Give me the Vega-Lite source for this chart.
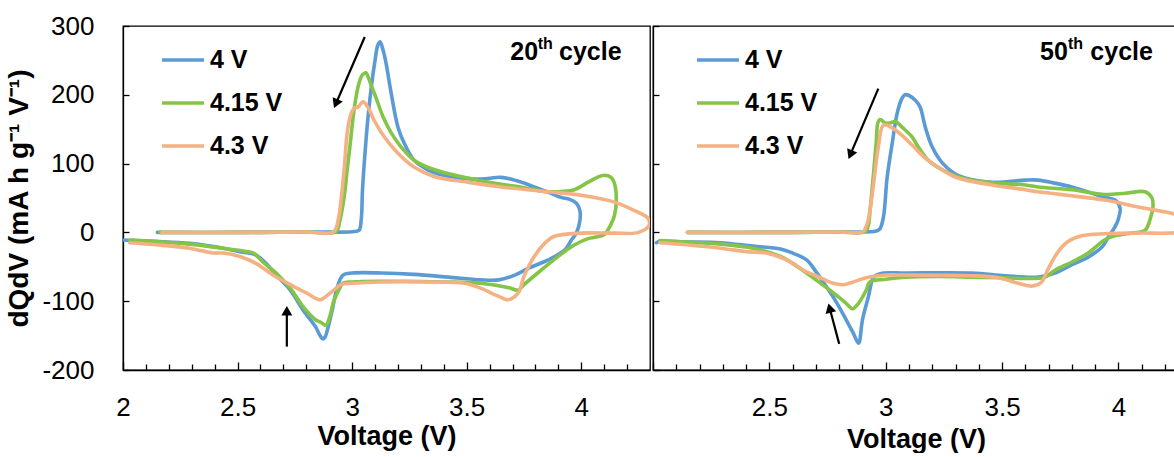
{
  "$schema": "https://vega.github.io/schema/vega-lite/v6.json",
  "padding": {"left": 5, "top": 12, "right": 0, "bottom": 0},
  "datasets": {
    "curves": [
      {"cycle":"20th","cutoff":"4 V","i":0,"V":2.15,"dQdV":0},
      {"cycle":"20th","cutoff":"4 V","i":1,"V":2.5,"dQdV":0},
      {"cycle":"20th","cutoff":"4 V","i":2,"V":2.8,"dQdV":0.5},
      {"cycle":"20th","cutoff":"4 V","i":3,"V":3.0,"dQdV":1},
      {"cycle":"20th","cutoff":"4 V","i":4,"V":3.03,"dQdV":3},
      {"cycle":"20th","cutoff":"4 V","i":5,"V":3.04,"dQdV":20},
      {"cycle":"20th","cutoff":"4 V","i":6,"V":3.045,"dQdV":60},
      {"cycle":"20th","cutoff":"4 V","i":7,"V":3.055,"dQdV":110},
      {"cycle":"20th","cutoff":"4 V","i":8,"V":3.07,"dQdV":170},
      {"cycle":"20th","cutoff":"4 V","i":9,"V":3.085,"dQdV":215},
      {"cycle":"20th","cutoff":"4 V","i":10,"V":3.1,"dQdV":250},
      {"cycle":"20th","cutoff":"4 V","i":11,"V":3.112,"dQdV":272},
      {"cycle":"20th","cutoff":"4 V","i":12,"V":3.122,"dQdV":277},
      {"cycle":"20th","cutoff":"4 V","i":13,"V":3.135,"dQdV":265},
      {"cycle":"20th","cutoff":"4 V","i":14,"V":3.148,"dQdV":246},
      {"cycle":"20th","cutoff":"4 V","i":15,"V":3.17,"dQdV":203},
      {"cycle":"20th","cutoff":"4 V","i":16,"V":3.2,"dQdV":153},
      {"cycle":"20th","cutoff":"4 V","i":17,"V":3.227,"dQdV":130},
      {"cycle":"20th","cutoff":"4 V","i":18,"V":3.27,"dQdV":105},
      {"cycle":"20th","cutoff":"4 V","i":19,"V":3.33,"dQdV":91},
      {"cycle":"20th","cutoff":"4 V","i":20,"V":3.4,"dQdV":83},
      {"cycle":"20th","cutoff":"4 V","i":21,"V":3.505,"dQdV":78},
      {"cycle":"20th","cutoff":"4 V","i":22,"V":3.58,"dQdV":78},
      {"cycle":"20th","cutoff":"4 V","i":23,"V":3.65,"dQdV":80},
      {"cycle":"20th","cutoff":"4 V","i":24,"V":3.72,"dQdV":75},
      {"cycle":"20th","cutoff":"4 V","i":25,"V":3.795,"dQdV":66},
      {"cycle":"20th","cutoff":"4 V","i":26,"V":3.86,"dQdV":58},
      {"cycle":"20th","cutoff":"4 V","i":27,"V":3.91,"dQdV":51},
      {"cycle":"20th","cutoff":"4 V","i":28,"V":3.95,"dQdV":48},
      {"cycle":"20th","cutoff":"4 V","i":29,"V":3.98,"dQdV":42},
      {"cycle":"20th","cutoff":"4 V","i":30,"V":3.995,"dQdV":30},
      {"cycle":"20th","cutoff":"4 V","i":31,"V":3.99,"dQdV":10},
      {"cycle":"20th","cutoff":"4 V","i":32,"V":3.975,"dQdV":-3},
      {"cycle":"20th","cutoff":"4 V","i":33,"V":3.955,"dQdV":-12},
      {"cycle":"20th","cutoff":"4 V","i":34,"V":3.93,"dQdV":-25},
      {"cycle":"20th","cutoff":"4 V","i":35,"V":3.856,"dQdV":-40},
      {"cycle":"20th","cutoff":"4 V","i":36,"V":3.77,"dQdV":-52},
      {"cycle":"20th","cutoff":"4 V","i":37,"V":3.71,"dQdV":-62},
      {"cycle":"20th","cutoff":"4 V","i":38,"V":3.64,"dQdV":-69},
      {"cycle":"20th","cutoff":"4 V","i":39,"V":3.56,"dQdV":-69},
      {"cycle":"20th","cutoff":"4 V","i":40,"V":3.42,"dQdV":-65},
      {"cycle":"20th","cutoff":"4 V","i":41,"V":3.27,"dQdV":-61},
      {"cycle":"20th","cutoff":"4 V","i":42,"V":3.13,"dQdV":-59},
      {"cycle":"20th","cutoff":"4 V","i":43,"V":3.0,"dQdV":-59},
      {"cycle":"20th","cutoff":"4 V","i":44,"V":2.96,"dQdV":-62},
      {"cycle":"20th","cutoff":"4 V","i":45,"V":2.935,"dQdV":-80},
      {"cycle":"20th","cutoff":"4 V","i":46,"V":2.915,"dQdV":-110},
      {"cycle":"20th","cutoff":"4 V","i":47,"V":2.895,"dQdV":-138},
      {"cycle":"20th","cutoff":"4 V","i":48,"V":2.882,"dQdV":-152},
      {"cycle":"20th","cutoff":"4 V","i":49,"V":2.873,"dQdV":-155},
      {"cycle":"20th","cutoff":"4 V","i":50,"V":2.86,"dQdV":-150},
      {"cycle":"20th","cutoff":"4 V","i":51,"V":2.84,"dQdV":-137},
      {"cycle":"20th","cutoff":"4 V","i":52,"V":2.786,"dQdV":-113},
      {"cycle":"20th","cutoff":"4 V","i":53,"V":2.73,"dQdV":-84},
      {"cycle":"20th","cutoff":"4 V","i":54,"V":2.668,"dQdV":-62},
      {"cycle":"20th","cutoff":"4 V","i":55,"V":2.624,"dQdV":-45},
      {"cycle":"20th","cutoff":"4 V","i":56,"V":2.58,"dQdV":-33},
      {"cycle":"20th","cutoff":"4 V","i":57,"V":2.51,"dQdV":-28},
      {"cycle":"20th","cutoff":"4 V","i":58,"V":2.437,"dQdV":-23},
      {"cycle":"20th","cutoff":"4 V","i":59,"V":2.29,"dQdV":-16},
      {"cycle":"20th","cutoff":"4 V","i":60,"V":2.145,"dQdV":-13},
      {"cycle":"20th","cutoff":"4 V","i":61,"V":2.0,"dQdV":-11},

      {"cycle":"20th","cutoff":"4.15 V","i":0,"V":2.16,"dQdV":0},
      {"cycle":"20th","cutoff":"4.15 V","i":1,"V":2.5,"dQdV":0},
      {"cycle":"20th","cutoff":"4.15 V","i":2,"V":2.8,"dQdV":0.5},
      {"cycle":"20th","cutoff":"4.15 V","i":3,"V":2.93,"dQdV":1},
      {"cycle":"20th","cutoff":"4.15 V","i":4,"V":2.945,"dQdV":15},
      {"cycle":"20th","cutoff":"4.15 V","i":5,"V":2.965,"dQdV":51},
      {"cycle":"20th","cutoff":"4.15 V","i":6,"V":2.978,"dQdV":90},
      {"cycle":"20th","cutoff":"4.15 V","i":7,"V":2.99,"dQdV":124},
      {"cycle":"20th","cutoff":"4.15 V","i":8,"V":3.01,"dQdV":182},
      {"cycle":"20th","cutoff":"4.15 V","i":9,"V":3.03,"dQdV":217},
      {"cycle":"20th","cutoff":"4.15 V","i":10,"V":3.045,"dQdV":229},
      {"cycle":"20th","cutoff":"4.15 V","i":11,"V":3.06,"dQdV":232},
      {"cycle":"20th","cutoff":"4.15 V","i":12,"V":3.072,"dQdV":224},
      {"cycle":"20th","cutoff":"4.15 V","i":13,"V":3.083,"dQdV":214},
      {"cycle":"20th","cutoff":"4.15 V","i":14,"V":3.105,"dQdV":195},
      {"cycle":"20th","cutoff":"4.15 V","i":15,"V":3.135,"dQdV":168},
      {"cycle":"20th","cutoff":"4.15 V","i":16,"V":3.17,"dQdV":145},
      {"cycle":"20th","cutoff":"4.15 V","i":17,"V":3.214,"dQdV":124},
      {"cycle":"20th","cutoff":"4.15 V","i":18,"V":3.27,"dQdV":105},
      {"cycle":"20th","cutoff":"4.15 V","i":19,"V":3.36,"dQdV":91},
      {"cycle":"20th","cutoff":"4.15 V","i":20,"V":3.505,"dQdV":79},
      {"cycle":"20th","cutoff":"4.15 V","i":21,"V":3.56,"dQdV":75},
      {"cycle":"20th","cutoff":"4.15 V","i":22,"V":3.65,"dQdV":70},
      {"cycle":"20th","cutoff":"4.15 V","i":23,"V":3.75,"dQdV":65},
      {"cycle":"20th","cutoff":"4.15 V","i":24,"V":3.856,"dQdV":59},
      {"cycle":"20th","cutoff":"4.15 V","i":25,"V":3.93,"dQdV":60},
      {"cycle":"20th","cutoff":"4.15 V","i":26,"V":3.97,"dQdV":62},
      {"cycle":"20th","cutoff":"4.15 V","i":27,"V":4.03,"dQdV":73},
      {"cycle":"20th","cutoff":"4.15 V","i":28,"V":4.07,"dQdV":80},
      {"cycle":"20th","cutoff":"4.15 V","i":29,"V":4.1,"dQdV":83},
      {"cycle":"20th","cutoff":"4.15 V","i":30,"V":4.13,"dQdV":80},
      {"cycle":"20th","cutoff":"4.15 V","i":31,"V":4.145,"dQdV":71},
      {"cycle":"20th","cutoff":"4.15 V","i":32,"V":4.153,"dQdV":47},
      {"cycle":"20th","cutoff":"4.15 V","i":33,"V":4.145,"dQdV":25},
      {"cycle":"20th","cutoff":"4.15 V","i":34,"V":4.13,"dQdV":12},
      {"cycle":"20th","cutoff":"4.15 V","i":35,"V":4.1,"dQdV":-3},
      {"cycle":"20th","cutoff":"4.15 V","i":36,"V":4.06,"dQdV":-7},
      {"cycle":"20th","cutoff":"4.15 V","i":37,"V":4.03,"dQdV":-9},
      {"cycle":"20th","cutoff":"4.15 V","i":38,"V":3.956,"dQdV":-21},
      {"cycle":"20th","cutoff":"4.15 V","i":39,"V":3.88,"dQdV":-40},
      {"cycle":"20th","cutoff":"4.15 V","i":40,"V":3.81,"dQdV":-59},
      {"cycle":"20th","cutoff":"4.15 V","i":41,"V":3.75,"dQdV":-76},
      {"cycle":"20th","cutoff":"4.15 V","i":42,"V":3.725,"dQdV":-84},
      {"cycle":"20th","cutoff":"4.15 V","i":43,"V":3.68,"dQdV":-80},
      {"cycle":"20th","cutoff":"4.15 V","i":44,"V":3.56,"dQdV":-74},
      {"cycle":"20th","cutoff":"4.15 V","i":45,"V":3.42,"dQdV":-72},
      {"cycle":"20th","cutoff":"4.15 V","i":46,"V":3.127,"dQdV":-71},
      {"cycle":"20th","cutoff":"4.15 V","i":47,"V":3.0,"dQdV":-72},
      {"cycle":"20th","cutoff":"4.15 V","i":48,"V":2.96,"dQdV":-74},
      {"cycle":"20th","cutoff":"4.15 V","i":49,"V":2.94,"dQdV":-85},
      {"cycle":"20th","cutoff":"4.15 V","i":50,"V":2.92,"dQdV":-100},
      {"cycle":"20th","cutoff":"4.15 V","i":51,"V":2.9,"dQdV":-125},
      {"cycle":"20th","cutoff":"4.15 V","i":52,"V":2.886,"dQdV":-135},
      {"cycle":"20th","cutoff":"4.15 V","i":53,"V":2.865,"dQdV":-131},
      {"cycle":"20th","cutoff":"4.15 V","i":54,"V":2.84,"dQdV":-127},
      {"cycle":"20th","cutoff":"4.15 V","i":55,"V":2.786,"dQdV":-108},
      {"cycle":"20th","cutoff":"4.15 V","i":56,"V":2.73,"dQdV":-81},
      {"cycle":"20th","cutoff":"4.15 V","i":57,"V":2.668,"dQdV":-59},
      {"cycle":"20th","cutoff":"4.15 V","i":58,"V":2.61,"dQdV":-43},
      {"cycle":"20th","cutoff":"4.15 V","i":59,"V":2.57,"dQdV":-30},
      {"cycle":"20th","cutoff":"4.15 V","i":60,"V":2.524,"dQdV":-27},
      {"cycle":"20th","cutoff":"4.15 V","i":61,"V":2.437,"dQdV":-23},
      {"cycle":"20th","cutoff":"4.15 V","i":62,"V":2.29,"dQdV":-17},
      {"cycle":"20th","cutoff":"4.15 V","i":63,"V":2.03,"dQdV":-11},

      {"cycle":"20th","cutoff":"4.3 V","i":0,"V":2.17,"dQdV":0},
      {"cycle":"20th","cutoff":"4.3 V","i":1,"V":2.5,"dQdV":0},
      {"cycle":"20th","cutoff":"4.3 V","i":2,"V":2.8,"dQdV":0.5},
      {"cycle":"20th","cutoff":"4.3 V","i":3,"V":2.92,"dQdV":1},
      {"cycle":"20th","cutoff":"4.3 V","i":4,"V":2.94,"dQdV":20},
      {"cycle":"20th","cutoff":"4.3 V","i":5,"V":2.95,"dQdV":42},
      {"cycle":"20th","cutoff":"4.3 V","i":6,"V":2.965,"dQdV":91},
      {"cycle":"20th","cutoff":"4.3 V","i":7,"V":2.98,"dQdV":149},
      {"cycle":"20th","cutoff":"4.3 V","i":8,"V":2.996,"dQdV":173},
      {"cycle":"20th","cutoff":"4.3 V","i":9,"V":3.01,"dQdV":181},
      {"cycle":"20th","cutoff":"4.3 V","i":10,"V":3.025,"dQdV":182},
      {"cycle":"20th","cutoff":"4.3 V","i":11,"V":3.048,"dQdV":190},
      {"cycle":"20th","cutoff":"4.3 V","i":12,"V":3.07,"dQdV":181},
      {"cycle":"20th","cutoff":"4.3 V","i":13,"V":3.096,"dQdV":163},
      {"cycle":"20th","cutoff":"4.3 V","i":14,"V":3.14,"dQdV":139},
      {"cycle":"20th","cutoff":"4.3 V","i":15,"V":3.2,"dQdV":115},
      {"cycle":"20th","cutoff":"4.3 V","i":16,"V":3.27,"dQdV":95},
      {"cycle":"20th","cutoff":"4.3 V","i":17,"V":3.36,"dQdV":81},
      {"cycle":"20th","cutoff":"4.3 V","i":18,"V":3.505,"dQdV":73},
      {"cycle":"20th","cutoff":"4.3 V","i":19,"V":3.65,"dQdV":66},
      {"cycle":"20th","cutoff":"4.3 V","i":20,"V":3.856,"dQdV":59},
      {"cycle":"20th","cutoff":"4.3 V","i":21,"V":4.0,"dQdV":54},
      {"cycle":"20th","cutoff":"4.3 V","i":22,"V":4.145,"dQdV":44},
      {"cycle":"20th","cutoff":"4.3 V","i":23,"V":4.23,"dQdV":32},
      {"cycle":"20th","cutoff":"4.3 V","i":24,"V":4.29,"dQdV":21},
      {"cycle":"20th","cutoff":"4.3 V","i":25,"V":4.297,"dQdV":11},
      {"cycle":"20th","cutoff":"4.3 V","i":26,"V":4.25,"dQdV":0},
      {"cycle":"20th","cutoff":"4.3 V","i":27,"V":4.145,"dQdV":-1},
      {"cycle":"20th","cutoff":"4.3 V","i":28,"V":4.0,"dQdV":-1},
      {"cycle":"20th","cutoff":"4.3 V","i":29,"V":3.88,"dQdV":-6},
      {"cycle":"20th","cutoff":"4.3 V","i":30,"V":3.84,"dQdV":-16},
      {"cycle":"20th","cutoff":"4.3 V","i":31,"V":3.795,"dQdV":-35},
      {"cycle":"20th","cutoff":"4.3 V","i":32,"V":3.75,"dQdV":-64},
      {"cycle":"20th","cutoff":"4.3 V","i":33,"V":3.725,"dQdV":-88},
      {"cycle":"20th","cutoff":"4.3 V","i":34,"V":3.68,"dQdV":-98},
      {"cycle":"20th","cutoff":"4.3 V","i":35,"V":3.64,"dQdV":-93},
      {"cycle":"20th","cutoff":"4.3 V","i":36,"V":3.56,"dQdV":-81},
      {"cycle":"20th","cutoff":"4.3 V","i":37,"V":3.49,"dQdV":-74},
      {"cycle":"20th","cutoff":"4.3 V","i":38,"V":3.345,"dQdV":-72},
      {"cycle":"20th","cutoff":"4.3 V","i":39,"V":3.127,"dQdV":-72},
      {"cycle":"20th","cutoff":"4.3 V","i":40,"V":3.0,"dQdV":-74},
      {"cycle":"20th","cutoff":"4.3 V","i":41,"V":2.95,"dQdV":-76},
      {"cycle":"20th","cutoff":"4.3 V","i":42,"V":2.92,"dQdV":-84},
      {"cycle":"20th","cutoff":"4.3 V","i":43,"V":2.886,"dQdV":-93},
      {"cycle":"20th","cutoff":"4.3 V","i":44,"V":2.86,"dQdV":-98},
      {"cycle":"20th","cutoff":"4.3 V","i":45,"V":2.8,"dQdV":-88},
      {"cycle":"20th","cutoff":"4.3 V","i":46,"V":2.73,"dQdV":-76},
      {"cycle":"20th","cutoff":"4.3 V","i":47,"V":2.655,"dQdV":-62},
      {"cycle":"20th","cutoff":"4.3 V","i":48,"V":2.58,"dQdV":-45},
      {"cycle":"20th","cutoff":"4.3 V","i":49,"V":2.51,"dQdV":-35},
      {"cycle":"20th","cutoff":"4.3 V","i":50,"V":2.437,"dQdV":-30},
      {"cycle":"20th","cutoff":"4.3 V","i":51,"V":2.393,"dQdV":-30},
      {"cycle":"20th","cutoff":"4.3 V","i":52,"V":2.29,"dQdV":-23},
      {"cycle":"20th","cutoff":"4.3 V","i":53,"V":2.145,"dQdV":-18},
      {"cycle":"20th","cutoff":"4.3 V","i":54,"V":2.03,"dQdV":-15},

      {"cycle":"50th","cutoff":"4 V","i":0,"V":2.148,"dQdV":0},
      {"cycle":"50th","cutoff":"4 V","i":1,"V":2.5,"dQdV":0},
      {"cycle":"50th","cutoff":"4 V","i":2,"V":2.8,"dQdV":0.5},
      {"cycle":"50th","cutoff":"4 V","i":3,"V":2.96,"dQdV":2},
      {"cycle":"50th","cutoff":"4 V","i":4,"V":2.975,"dQdV":5},
      {"cycle":"50th","cutoff":"4 V","i":5,"V":2.99,"dQdV":22},
      {"cycle":"50th","cutoff":"4 V","i":6,"V":3.006,"dQdV":80},
      {"cycle":"50th","cutoff":"4 V","i":7,"V":3.028,"dQdV":130},
      {"cycle":"50th","cutoff":"4 V","i":8,"V":3.049,"dQdV":173},
      {"cycle":"50th","cutoff":"4 V","i":9,"V":3.07,"dQdV":195},
      {"cycle":"50th","cutoff":"4 V","i":10,"V":3.083,"dQdV":200},
      {"cycle":"50th","cutoff":"4 V","i":11,"V":3.1,"dQdV":199},
      {"cycle":"50th","cutoff":"4 V","i":12,"V":3.127,"dQdV":192},
      {"cycle":"50th","cutoff":"4 V","i":13,"V":3.148,"dQdV":182},
      {"cycle":"50th","cutoff":"4 V","i":14,"V":3.17,"dQdV":153},
      {"cycle":"50th","cutoff":"4 V","i":15,"V":3.2,"dQdV":124},
      {"cycle":"50th","cutoff":"4 V","i":16,"V":3.243,"dQdV":101},
      {"cycle":"50th","cutoff":"4 V","i":17,"V":3.31,"dQdV":83},
      {"cycle":"50th","cutoff":"4 V","i":18,"V":3.457,"dQdV":73},
      {"cycle":"50th","cutoff":"4 V","i":19,"V":3.6,"dQdV":76},
      {"cycle":"50th","cutoff":"4 V","i":20,"V":3.655,"dQdV":76},
      {"cycle":"50th","cutoff":"4 V","i":21,"V":3.72,"dQdV":72},
      {"cycle":"50th","cutoff":"4 V","i":22,"V":3.8,"dQdV":66},
      {"cycle":"50th","cutoff":"4 V","i":23,"V":3.94,"dQdV":51},
      {"cycle":"50th","cutoff":"4 V","i":24,"V":3.985,"dQdV":47},
      {"cycle":"50th","cutoff":"4 V","i":25,"V":4.007,"dQdV":35},
      {"cycle":"50th","cutoff":"4 V","i":26,"V":4.0,"dQdV":20},
      {"cycle":"50th","cutoff":"4 V","i":27,"V":3.985,"dQdV":8},
      {"cycle":"50th","cutoff":"4 V","i":28,"V":3.956,"dQdV":-7},
      {"cycle":"50th","cutoff":"4 V","i":29,"V":3.93,"dQdV":-21},
      {"cycle":"50th","cutoff":"4 V","i":30,"V":3.87,"dQdV":-36},
      {"cycle":"50th","cutoff":"4 V","i":31,"V":3.8,"dQdV":-47},
      {"cycle":"50th","cutoff":"4 V","i":32,"V":3.727,"dQdV":-59},
      {"cycle":"50th","cutoff":"4 V","i":33,"V":3.655,"dQdV":-65},
      {"cycle":"50th","cutoff":"4 V","i":34,"V":3.513,"dQdV":-63},
      {"cycle":"50th","cutoff":"4 V","i":35,"V":3.37,"dQdV":-59},
      {"cycle":"50th","cutoff":"4 V","i":36,"V":3.084,"dQdV":-59},
      {"cycle":"50th","cutoff":"4 V","i":37,"V":2.99,"dQdV":-59},
      {"cycle":"50th","cutoff":"4 V","i":38,"V":2.96,"dQdV":-62},
      {"cycle":"50th","cutoff":"4 V","i":39,"V":2.946,"dQdV":-66},
      {"cycle":"50th","cutoff":"4 V","i":40,"V":2.925,"dQdV":-94},
      {"cycle":"50th","cutoff":"4 V","i":41,"V":2.9,"dQdV":-127},
      {"cycle":"50th","cutoff":"4 V","i":42,"V":2.883,"dQdV":-161},
      {"cycle":"50th","cutoff":"4 V","i":43,"V":2.86,"dQdV":-146},
      {"cycle":"50th","cutoff":"4 V","i":44,"V":2.83,"dQdV":-127},
      {"cycle":"50th","cutoff":"4 V","i":45,"V":2.787,"dQdV":-101},
      {"cycle":"50th","cutoff":"4 V","i":46,"V":2.745,"dQdV":-79},
      {"cycle":"50th","cutoff":"4 V","i":47,"V":2.7,"dQdV":-57},
      {"cycle":"50th","cutoff":"4 V","i":48,"V":2.66,"dQdV":-40},
      {"cycle":"50th","cutoff":"4 V","i":49,"V":2.6,"dQdV":-30},
      {"cycle":"50th","cutoff":"4 V","i":50,"V":2.548,"dQdV":-24},
      {"cycle":"50th","cutoff":"4 V","i":51,"V":2.43,"dQdV":-20},
      {"cycle":"50th","cutoff":"4 V","i":52,"V":2.29,"dQdV":-15},
      {"cycle":"50th","cutoff":"4 V","i":53,"V":2.144,"dQdV":-14},
      {"cycle":"50th","cutoff":"4 V","i":54,"V":2.03,"dQdV":-13},
      {"cycle":"50th","cutoff":"4 V","i":55,"V":2.015,"dQdV":-15},

      {"cycle":"50th","cutoff":"4.15 V","i":0,"V":2.148,"dQdV":0},
      {"cycle":"50th","cutoff":"4.15 V","i":1,"V":2.5,"dQdV":0},
      {"cycle":"50th","cutoff":"4.15 V","i":2,"V":2.8,"dQdV":0.5},
      {"cycle":"50th","cutoff":"4.15 V","i":3,"V":2.912,"dQdV":1},
      {"cycle":"50th","cutoff":"4.15 V","i":4,"V":2.925,"dQdV":10},
      {"cycle":"50th","cutoff":"4.15 V","i":5,"V":2.933,"dQdV":33},
      {"cycle":"50th","cutoff":"4.15 V","i":6,"V":2.946,"dQdV":80},
      {"cycle":"50th","cutoff":"4.15 V","i":7,"V":2.959,"dQdV":130},
      {"cycle":"50th","cutoff":"4.15 V","i":8,"V":2.966,"dQdV":159},
      {"cycle":"50th","cutoff":"4.15 V","i":9,"V":2.975,"dQdV":164},
      {"cycle":"50th","cutoff":"4.15 V","i":10,"V":2.983,"dQdV":163},
      {"cycle":"50th","cutoff":"4.15 V","i":11,"V":2.996,"dQdV":159},
      {"cycle":"50th","cutoff":"4.15 V","i":12,"V":3.017,"dQdV":159},
      {"cycle":"50th","cutoff":"4.15 V","i":13,"V":3.043,"dQdV":161},
      {"cycle":"50th","cutoff":"4.15 V","i":14,"V":3.07,"dQdV":153},
      {"cycle":"50th","cutoff":"4.15 V","i":15,"V":3.113,"dQdV":139},
      {"cycle":"50th","cutoff":"4.15 V","i":16,"V":3.14,"dQdV":124},
      {"cycle":"50th","cutoff":"4.15 V","i":17,"V":3.182,"dQdV":105},
      {"cycle":"50th","cutoff":"4.15 V","i":18,"V":3.243,"dQdV":91},
      {"cycle":"50th","cutoff":"4.15 V","i":19,"V":3.31,"dQdV":81},
      {"cycle":"50th","cutoff":"4.15 V","i":20,"V":3.457,"dQdV":72},
      {"cycle":"50th","cutoff":"4.15 V","i":21,"V":3.6,"dQdV":69},
      {"cycle":"50th","cutoff":"4.15 V","i":22,"V":3.655,"dQdV":66},
      {"cycle":"50th","cutoff":"4.15 V","i":23,"V":3.8,"dQdV":62},
      {"cycle":"50th","cutoff":"4.15 V","i":24,"V":3.942,"dQdV":55},
      {"cycle":"50th","cutoff":"4.15 V","i":25,"V":4.03,"dQdV":57},
      {"cycle":"50th","cutoff":"4.15 V","i":26,"V":4.114,"dQdV":59},
      {"cycle":"50th","cutoff":"4.15 V","i":27,"V":4.144,"dQdV":50},
      {"cycle":"50th","cutoff":"4.15 V","i":28,"V":4.148,"dQdV":37},
      {"cycle":"50th","cutoff":"4.15 V","i":29,"V":4.135,"dQdV":18},
      {"cycle":"50th","cutoff":"4.15 V","i":30,"V":4.114,"dQdV":3},
      {"cycle":"50th","cutoff":"4.15 V","i":31,"V":4.058,"dQdV":-1},
      {"cycle":"50th","cutoff":"4.15 V","i":32,"V":3.985,"dQdV":-5},
      {"cycle":"50th","cutoff":"4.15 V","i":33,"V":3.94,"dQdV":-11},
      {"cycle":"50th","cutoff":"4.15 V","i":34,"V":3.87,"dQdV":-30},
      {"cycle":"50th","cutoff":"4.15 V","i":35,"V":3.8,"dQdV":-43},
      {"cycle":"50th","cutoff":"4.15 V","i":36,"V":3.727,"dQdV":-55},
      {"cycle":"50th","cutoff":"4.15 V","i":37,"V":3.685,"dQdV":-65},
      {"cycle":"50th","cutoff":"4.15 V","i":38,"V":3.63,"dQdV":-67},
      {"cycle":"50th","cutoff":"4.15 V","i":39,"V":3.513,"dQdV":-66},
      {"cycle":"50th","cutoff":"4.15 V","i":40,"V":3.37,"dQdV":-65},
      {"cycle":"50th","cutoff":"4.15 V","i":41,"V":3.226,"dQdV":-64},
      {"cycle":"50th","cutoff":"4.15 V","i":42,"V":3.084,"dQdV":-65},
      {"cycle":"50th","cutoff":"4.15 V","i":43,"V":3.0,"dQdV":-68},
      {"cycle":"50th","cutoff":"4.15 V","i":44,"V":2.932,"dQdV":-72},
      {"cycle":"50th","cutoff":"4.15 V","i":45,"V":2.916,"dQdV":-84},
      {"cycle":"50th","cutoff":"4.15 V","i":46,"V":2.883,"dQdV":-103},
      {"cycle":"50th","cutoff":"4.15 V","i":47,"V":2.857,"dQdV":-111},
      {"cycle":"50th","cutoff":"4.15 V","i":48,"V":2.83,"dQdV":-103},
      {"cycle":"50th","cutoff":"4.15 V","i":49,"V":2.775,"dQdV":-88},
      {"cycle":"50th","cutoff":"4.15 V","i":50,"V":2.72,"dQdV":-74},
      {"cycle":"50th","cutoff":"4.15 V","i":51,"V":2.66,"dQdV":-59},
      {"cycle":"50th","cutoff":"4.15 V","i":52,"V":2.6,"dQdV":-45},
      {"cycle":"50th","cutoff":"4.15 V","i":53,"V":2.548,"dQdV":-35},
      {"cycle":"50th","cutoff":"4.15 V","i":54,"V":2.43,"dQdV":-23},
      {"cycle":"50th","cutoff":"4.15 V","i":55,"V":2.29,"dQdV":-17},
      {"cycle":"50th","cutoff":"4.15 V","i":56,"V":2.144,"dQdV":-14},
      {"cycle":"50th","cutoff":"4.15 V","i":57,"V":2.03,"dQdV":-12},

      {"cycle":"50th","cutoff":"4.3 V","i":0,"V":2.148,"dQdV":0},
      {"cycle":"50th","cutoff":"4.3 V","i":1,"V":2.5,"dQdV":0},
      {"cycle":"50th","cutoff":"4.3 V","i":2,"V":2.8,"dQdV":0.5},
      {"cycle":"50th","cutoff":"4.3 V","i":3,"V":2.903,"dQdV":1},
      {"cycle":"50th","cutoff":"4.3 V","i":4,"V":2.915,"dQdV":8},
      {"cycle":"50th","cutoff":"4.3 V","i":5,"V":2.925,"dQdV":18},
      {"cycle":"50th","cutoff":"4.3 V","i":6,"V":2.946,"dQdV":66},
      {"cycle":"50th","cutoff":"4.3 V","i":7,"V":2.968,"dQdV":124},
      {"cycle":"50th","cutoff":"4.3 V","i":8,"V":2.99,"dQdV":156},
      {"cycle":"50th","cutoff":"4.3 V","i":9,"V":3.028,"dQdV":152},
      {"cycle":"50th","cutoff":"4.3 V","i":10,"V":3.07,"dQdV":141},
      {"cycle":"50th","cutoff":"4.3 V","i":11,"V":3.113,"dQdV":127},
      {"cycle":"50th","cutoff":"4.3 V","i":12,"V":3.17,"dQdV":108},
      {"cycle":"50th","cutoff":"4.3 V","i":13,"V":3.243,"dQdV":91},
      {"cycle":"50th","cutoff":"4.3 V","i":14,"V":3.31,"dQdV":79},
      {"cycle":"50th","cutoff":"4.3 V","i":15,"V":3.457,"dQdV":69},
      {"cycle":"50th","cutoff":"4.3 V","i":16,"V":3.6,"dQdV":62},
      {"cycle":"50th","cutoff":"4.3 V","i":17,"V":3.655,"dQdV":59},
      {"cycle":"50th","cutoff":"4.3 V","i":18,"V":3.942,"dQdV":47},
      {"cycle":"50th","cutoff":"4.3 V","i":19,"V":4.084,"dQdV":37},
      {"cycle":"50th","cutoff":"4.3 V","i":20,"V":4.26,"dQdV":25},
      {"cycle":"50th","cutoff":"4.3 V","i":21,"V":4.3,"dQdV":18},
      {"cycle":"50th","cutoff":"4.3 V","i":22,"V":4.31,"dQdV":8},
      {"cycle":"50th","cutoff":"4.3 V","i":23,"V":4.25,"dQdV":0},
      {"cycle":"50th","cutoff":"4.3 V","i":24,"V":4.213,"dQdV":-1},
      {"cycle":"50th","cutoff":"4.3 V","i":25,"V":4.084,"dQdV":-1},
      {"cycle":"50th","cutoff":"4.3 V","i":26,"V":3.942,"dQdV":-2},
      {"cycle":"50th","cutoff":"4.3 V","i":27,"V":3.843,"dQdV":-5},
      {"cycle":"50th","cutoff":"4.3 V","i":28,"V":3.78,"dQdV":-14},
      {"cycle":"50th","cutoff":"4.3 V","i":29,"V":3.737,"dQdV":-30},
      {"cycle":"50th","cutoff":"4.3 V","i":30,"V":3.695,"dQdV":-55},
      {"cycle":"50th","cutoff":"4.3 V","i":31,"V":3.67,"dQdV":-72},
      {"cycle":"50th","cutoff":"4.3 V","i":32,"V":3.63,"dQdV":-78},
      {"cycle":"50th","cutoff":"4.3 V","i":33,"V":3.57,"dQdV":-74},
      {"cycle":"50th","cutoff":"4.3 V","i":34,"V":3.483,"dQdV":-66},
      {"cycle":"50th","cutoff":"4.3 V","i":35,"V":3.37,"dQdV":-63},
      {"cycle":"50th","cutoff":"4.3 V","i":36,"V":3.084,"dQdV":-62},
      {"cycle":"50th","cutoff":"4.3 V","i":37,"V":3.0,"dQdV":-62},
      {"cycle":"50th","cutoff":"4.3 V","i":38,"V":2.916,"dQdV":-66},
      {"cycle":"50th","cutoff":"4.3 V","i":39,"V":2.86,"dQdV":-72},
      {"cycle":"50th","cutoff":"4.3 V","i":40,"V":2.817,"dQdV":-76},
      {"cycle":"50th","cutoff":"4.3 V","i":41,"V":2.775,"dQdV":-74},
      {"cycle":"50th","cutoff":"4.3 V","i":42,"V":2.72,"dQdV":-66},
      {"cycle":"50th","cutoff":"4.3 V","i":43,"V":2.647,"dQdV":-55},
      {"cycle":"50th","cutoff":"4.3 V","i":44,"V":2.574,"dQdV":-40},
      {"cycle":"50th","cutoff":"4.3 V","i":45,"V":2.487,"dQdV":-30},
      {"cycle":"50th","cutoff":"4.3 V","i":46,"V":2.4,"dQdV":-28},
      {"cycle":"50th","cutoff":"4.3 V","i":47,"V":2.29,"dQdV":-23},
      {"cycle":"50th","cutoff":"4.3 V","i":48,"V":2.144,"dQdV":-18},
      {"cycle":"50th","cutoff":"4.3 V","i":49,"V":2.03,"dQdV":-15}
    ],
    "arrows": [
      {"cycle":"20th","V":3.055,"dQdV":284,"V_end":2.929,"dQdV_end":187,"angle":203},
      {"cycle":"20th","V":2.715,"dQdV":-166,"V_end":2.715,"dQdV_end":-114,"angle":0},
      {"cycle":"50th","V":2.968,"dQdV":209,"V_end":2.848,"dQdV_end":113,"angle":203},
      {"cycle":"50th","V":2.8,"dQdV":-162,"V_end":2.759,"dQdV_end":-110,"angle":345}
    ]
  },
  "hconcat": [
    {
      "width": 527,
      "height": 344,
      "resolve": {"axis": {"x": "independent"}},
      "layer": [
        {
          "data": {"name": "curves"},
          "transform": [{"filter": "datum.cycle == '20th'"}],
          "mark": {"type": "line", "strokeWidth": 3.6, "clip": true, "strokeJoin": "round", "strokeCap": "round", "interpolate": "catmull-rom"},
          "encoding": {
            "x": {"field": "V", "type": "quantitative",
              "scale": {"domain": [2, 4.3], "nice": false, "zero": false},
              "axis": {"orient": "bottom", "title": null, "labels": false, "values": [2,2.1,2.2,2.3,2.4,2.5,2.6,2.7,2.8,2.9,3,3.1,3.2,3.3,3.4,3.5,3.6,3.7,3.8,3.9,4,4.1,4.2],
                "tickSize": {"condition": {"test": "abs(datum.value*2 - round(datum.value*2)) < 0.01", "value": -8}, "value": -6}}},
            "y": {"field": "dQdV", "type": "quantitative",
              "scale": {"domain": [-200, 300], "nice": false, "zero": false},
              "axis": {"title": "dQdV (mA h g⁻¹ V⁻¹)", "titleFontSize": 28, "values": [-200,-100,0,100,200,300],
                "labelExpr": "'' + datum.value", "labelOverlap": false, "labelPadding": 35, "titlePadding": 8}},
            "color": {"field": "cutoff", "type": "nominal",
              "scale": {"domain": ["4 V", "4.15 V", "4.3 V"], "range": ["#5B9BD5", "#84C446", "#F4B183"]},
              "legend": {"orient": "none", "legendX": 37, "legendY": 11, "title": null, "symbolType": "stroke",
                "symbolSize": 1764, "symbolStrokeWidth": 3.6, "labelFontSize": 25, "labelFontWeight": "bold",
                "labelColor": "black", "rowPadding": 7, "padding": 0, "labelOffset": 4}},
            "order": {"field": "i", "type": "quantitative"}
          }
        },
        {
          "data": {"name": "arrows"},
          "transform": [{"filter": "datum.cycle == '20th'"}],
          "mark": {"type": "rule", "color": "black", "strokeWidth": 2.2},
          "encoding": {
            "x": {"field": "V", "type": "quantitative",
              "axis": {"orient": "bottom", "title": "Voltage (V)", "titleFontSize": 27, "values": [2, 2.5, 3, 3.5, 4], "format": "~g",
                "ticks": false, "domain": false, "labelPadding": 24, "titlePadding": 3}},
            "y": {"field": "dQdV", "type": "quantitative"},
            "x2": {"field": "V_end"},
            "y2": {"field": "dQdV_end"}
          }
        },
        {
          "data": {"name": "arrows"},
          "transform": [{"filter": "datum.cycle == '20th'"}],
          "mark": {"type": "point", "shape": "triangle-up", "filled": true, "color": "black", "size": 120, "opacity": 1},
          "encoding": {
            "x": {"field": "V_end", "type": "quantitative", "axis": null},
            "y": {"field": "dQdV_end", "type": "quantitative"},
            "angle": {"field": "angle", "type": "quantitative", "scale": null}
          }
        },
        {
          "data": {"values": [{}]},
          "mark": {"type": "text", "text": "20", "fontSize": 25, "fontWeight": "bold", "align": "left", "baseline": "alphabetic", "color": "black"},
          "encoding": {"x": {"datum": 3.69, "axis": null}, "y": {"datum": 250.6}}
        },
        {
          "data": {"values": [{}]},
          "mark": {"type": "text", "text": "th", "fontSize": 16, "fontWeight": "bold", "align": "left", "baseline": "alphabetic", "color": "black"},
          "encoding": {"x": {"datum": 3.81, "axis": null}, "y": {"datum": 266}}
        },
        {
          "data": {"values": [{}]},
          "mark": {"type": "text", "text": "cycle", "fontSize": 25, "fontWeight": "bold", "align": "left", "baseline": "alphabetic", "color": "black"},
          "encoding": {"x": {"datum": 3.903, "axis": null}, "y": {"datum": 250.6}}
        }
      ]
    },
    {
      "width": 526,
      "height": 344,
      "resolve": {"axis": {"x": "independent"}},
      "layer": [
        {
          "data": {"name": "curves"},
          "transform": [{"filter": "datum.cycle == '50th'"}],
          "mark": {"type": "line", "strokeWidth": 3.6, "clip": true, "strokeJoin": "round", "strokeCap": "round", "interpolate": "catmull-rom"},
          "encoding": {
            "x": {"field": "V", "type": "quantitative",
              "scale": {"domain": [2, 4.26], "nice": false, "zero": false},
              "axis": {"orient": "bottom", "title": null, "labels": false, "values": [2,2.1,2.2,2.3,2.4,2.5,2.6,2.7,2.8,2.9,3,3.1,3.2,3.3,3.4,3.5,3.6,3.7,3.8,3.9,4,4.1,4.2],
                "tickSize": {"condition": {"test": "abs(datum.value*2 - round(datum.value*2)) < 0.01", "value": -8}, "value": -6}}},
            "y": {"field": "dQdV", "type": "quantitative",
              "scale": {"domain": [-200, 300], "nice": false, "zero": false},
              "axis": {"title": null, "labels": false, "values": [-200,-100,0,100,200,300]}},
            "color": {"field": "cutoff", "type": "nominal",
              "scale": {"domain": ["4 V", "4.15 V", "4.3 V"], "range": ["#5B9BD5", "#84C446", "#F4B183"]},
              "legend": {"orient": "none", "legendX": 42, "legendY": 11, "title": null, "symbolType": "stroke",
                "symbolSize": 1764, "symbolStrokeWidth": 3.6, "labelFontSize": 25, "labelFontWeight": "bold",
                "labelColor": "black", "rowPadding": 7, "padding": 0, "labelOffset": 4}},
            "order": {"field": "i", "type": "quantitative"}
          }
        },
        {
          "data": {"name": "arrows"},
          "transform": [{"filter": "datum.cycle == '50th'"}],
          "mark": {"type": "rule", "color": "black", "strokeWidth": 2.2},
          "encoding": {
            "x": {"field": "V", "type": "quantitative",
              "axis": {"orient": "bottom", "title": "Voltage (V)", "titleFontSize": 27, "values": [2.5, 3, 3.5, 4], "format": "~g",
                "ticks": false, "domain": false, "labelPadding": 24, "titlePadding": 6}},
            "y": {"field": "dQdV", "type": "quantitative"},
            "x2": {"field": "V_end"},
            "y2": {"field": "dQdV_end"}
          }
        },
        {
          "data": {"name": "arrows"},
          "transform": [{"filter": "datum.cycle == '50th'"}],
          "mark": {"type": "point", "shape": "triangle-up", "filled": true, "color": "black", "size": 120, "opacity": 1},
          "encoding": {
            "x": {"field": "V_end", "type": "quantitative", "axis": null},
            "y": {"field": "dQdV_end", "type": "quantitative"},
            "angle": {"field": "angle", "type": "quantitative", "scale": null}
          }
        },
        {
          "data": {"values": [{}]},
          "mark": {"type": "text", "text": "50", "fontSize": 25, "fontWeight": "bold", "align": "left", "baseline": "alphabetic", "color": "black"},
          "encoding": {"x": {"datum": 3.663, "axis": null}, "y": {"datum": 250.6}}
        },
        {
          "data": {"values": [{}]},
          "mark": {"type": "text", "text": "th", "fontSize": 16, "fontWeight": "bold", "align": "left", "baseline": "alphabetic", "color": "black"},
          "encoding": {"x": {"datum": 3.783, "axis": null}, "y": {"datum": 266}}
        },
        {
          "data": {"values": [{}]},
          "mark": {"type": "text", "text": "cycle", "fontSize": 25, "fontWeight": "bold", "align": "left", "baseline": "alphabetic", "color": "black"},
          "encoding": {"x": {"datum": 3.879, "axis": null}, "y": {"datum": 250.6}}
        }
      ]
    }
  ],
  "spacing": 0,
  "resolve": {"legend": {"color": "independent"}, "scale": {"x": "independent"}},
  "config": {
    "font": "Liberation Sans",
    "view": {"stroke": "black", "strokeWidth": 1.3},
    "axis": {
      "grid": false,
      "domainColor": "black",
      "domainWidth": 1.3,
      "tickColor": "black",
      "tickWidth": 1.3,
      "tickSize": -6,
      "labelColor": "black",
      "labelFont": "Liberation Sans",
      "labelFontSize": 26,
      "labelOverlap": false,
      "labelFlush": false,
      "labelBound": false,
      "titleColor": "black",
      "titleFont": "Liberation Sans",
      "titleFontSize": 26,
      "titleFontWeight": "bold"
    },
    "legend": {"labelFont": "Liberation Sans"}
  }
}
